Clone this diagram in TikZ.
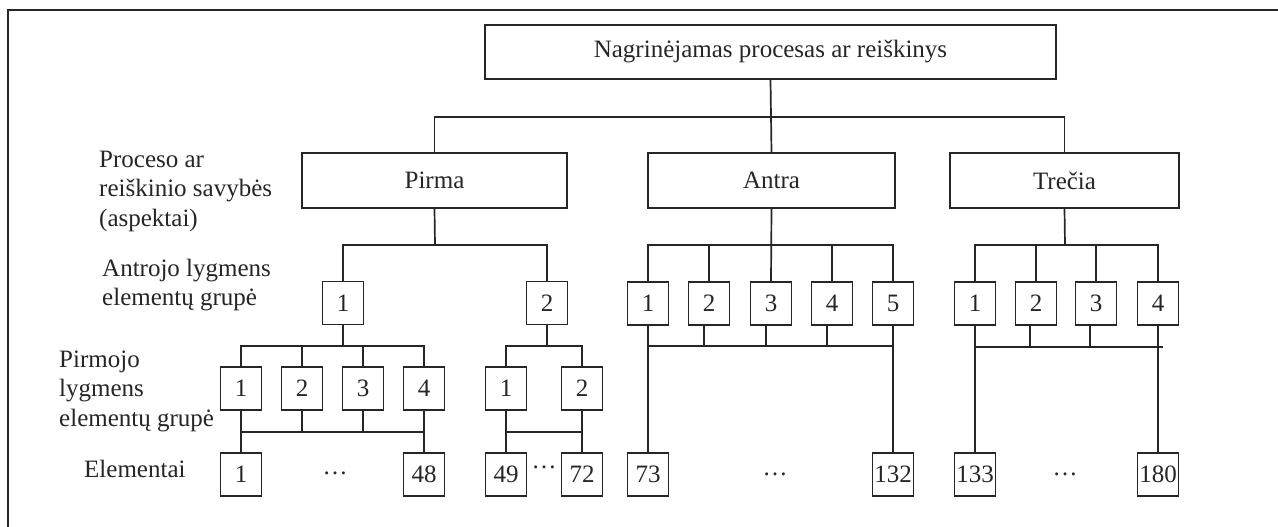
\documentclass[tikz,border=0pt]{standalone}
\usepackage{fontspec}
\setmainfont{Liberation Serif}
\newcommand\lblfont{\fontsize{25}{29.5}\selectfont}
\begin{document}
\begin{tikzpicture}[x=1pt,y=-1pt,
  every node/.style={font=\lblfont, inner sep=0pt, text=black!85},
  conn/.style={line width=1.7pt, draw=black!85, line cap=rect},
  bigbox/.style={draw=black!85, line width=1.7pt, minimum height=55pt},
  sbox/.style={draw=black!85, line width=1.7pt, minimum width=41pt, minimum height=43pt},
  lbl/.style={align=left, anchor=west},
  dotsn/.style={}
]
\useasboundingbox (0,0) rectangle (1278,527);
\clip (0,0) rectangle (1278,527);
\fill[white] (0,0) rectangle (1278,527);
% frame
\draw[line width=1.7pt, draw=black!85] (8,540) -- (8,10) -- (1290,10);

% top and first level
\node[bigbox, minimum width=571pt, minimum height=54pt] (top) at (770.5,52) {Nagrinėjamas procesas ar reiškinys};
\node[bigbox, minimum width=265pt] (pirma) at (434.5,180.5) {Pirma};
\node[bigbox, minimum width=247pt] (antra) at (771.5,180.5) {Antra};
\node[bigbox, minimum width=229pt] (trecia) at (1064.5,180.5) {Trečia};

% second-level groups
\node[sbox] (p1) at (343,303) {1};
\node[sbox] (p2) at (547,303) {2};
\foreach \i/\x in {1/648,2/709,3/771,4/832,5/893}{
  \node[sbox] (a\i) at (\x,303.5) {\i};
}
\foreach \i/\x in {1/975,2/1036,3/1096,4/1158}{
  \node[sbox] (t\i) at (\x,303.5) {\i};
}

% first-level groups
\foreach \i/\x in {1/241,2/302,3/363,4/424}{
  \node[sbox] (q\i) at (\x,388.5) {\i};
}
\node[sbox] (r1) at (506,388.5) {1};
\node[sbox] (r2) at (582,388.5) {2};

% elements
\node[sbox] (e1) at (241,474.5) {1};
\node[sbox] (e48) at (424,474.5) {48};
\node[sbox] (e49) at (506,474.5) {49};
\node[sbox] (e72) at (582,474.5) {72};
\node[sbox] (e73) at (648,474.5) {73};
\node[sbox] (e132) at (893,474.5) {132};
\node[sbox] (e133) at (975,474.5) {133};
\node[sbox] (e180) at (1158,474.5) {180};

\node[dotsn] (dA) at (335,473) {…};
\node[dotsn] (dB) at (544,467) {…};
\node[dotsn] (dC) at (775,474) {…};
\node[dotsn] (dD) at (1065,474) {…};

% left labels
\node[lbl] (l1) at (99,191) {Proceso ar\\reiškinio savybės\\(aspektai)};
\node[lbl] (l2) at (102,285) {Antrojo lygmens\\elementų grupė};
\node[lbl] (l3) at (59,391) {Pirmojo\\lygmens\\elementų grupė};
\node[lbl] (l4) at (84,469) {Elementai};

% connectors
\coordinate (b0) at (770,117);
\draw[conn] (top.south) -- (antra.north);
\draw[conn] (pirma.north) |- (b0) -| (trecia.north);

\coordinate (b1) at (435,245);
\draw[conn] (pirma.south) -- (b1);
\draw[conn] (p1.north) |- (b1) -| (p2.north);

\coordinate (b2) at (771,245);
\draw[conn] (antra.south) -- (a3.north);
\draw[conn] (a1.north) |- (b2) -| (a5.north);
\draw[conn] (a2.north) -- (a2.north |- b2);
\draw[conn] (a4.north) -- (a4.north |- b2);

\coordinate (b3) at (1065,245);
\draw[conn] (trecia.south) -- (b3);
\draw[conn] (t1.north) |- (b3) -| (t4.north);
\draw[conn] (t2.north) -- (t2.north |- b3);
\draw[conn] (t3.north) -- (t3.north |- b3);

\coordinate (c1) at (343,346);
\draw[conn] (p1.south) -- (c1);
\draw[conn] (q1.north) |- (c1) -| (q4.north);
\draw[conn] (q2.north) -- (q2.north |- c1);
\draw[conn] (q3.north) -- (q3.north |- c1);

\coordinate (c2) at (547,346);
\draw[conn] (p2.south) -- (c2);
\draw[conn] (r1.north) |- (c2) -| (r2.north);

\coordinate (d1) at (300,432);
\draw[conn] (q1.south) -- (e1.north);
\draw[conn] (q4.south) -- (e48.north);
\draw[conn] (q1.south |- d1) -- (q4.south |- d1);
\draw[conn] (q2.south) -- (q2.south |- d1);
\draw[conn] (q3.south) -- (q3.south |- d1);

\draw[conn] (r1.south) -- (e49.north);
\draw[conn] (r2.south) -- (e72.north);
\draw[conn] (r1.south |- d1) -- (r2.south |- d1);

\coordinate (d2) at (770,346);
\draw[conn] (a1.south) -- (e73.north);
\draw[conn] (a5.south) -- (e132.north);
\draw[conn] (a1.south |- d2) -- (a5.south |- d2);
\draw[conn] ([xshift=-5pt]a2.south) -- ([xshift=-5pt]a2.south |- d2);
\draw[conn] ([xshift=-5pt]a3.south) -- ([xshift=-5pt]a3.south |- d2);
\draw[conn] ([xshift=-5pt]a4.south) -- ([xshift=-5pt]a4.south |- d2);

\coordinate (d3) at (1065,347);
\draw[conn] (t1.south) -- (e133.north);
\draw[conn] (t4.south) -- (e180.north);
\draw[conn] ([xshift=2pt]t1.south |- d3) -- ([xshift=4pt]t4.south |- d3);
\draw[conn] ([xshift=-6pt]t2.south) -- ([xshift=-6pt]t2.south |- d3);
\draw[conn] ([xshift=-6pt]t3.south) -- ([xshift=-6pt]t3.south |- d3);
\end{tikzpicture}
\end{document}
